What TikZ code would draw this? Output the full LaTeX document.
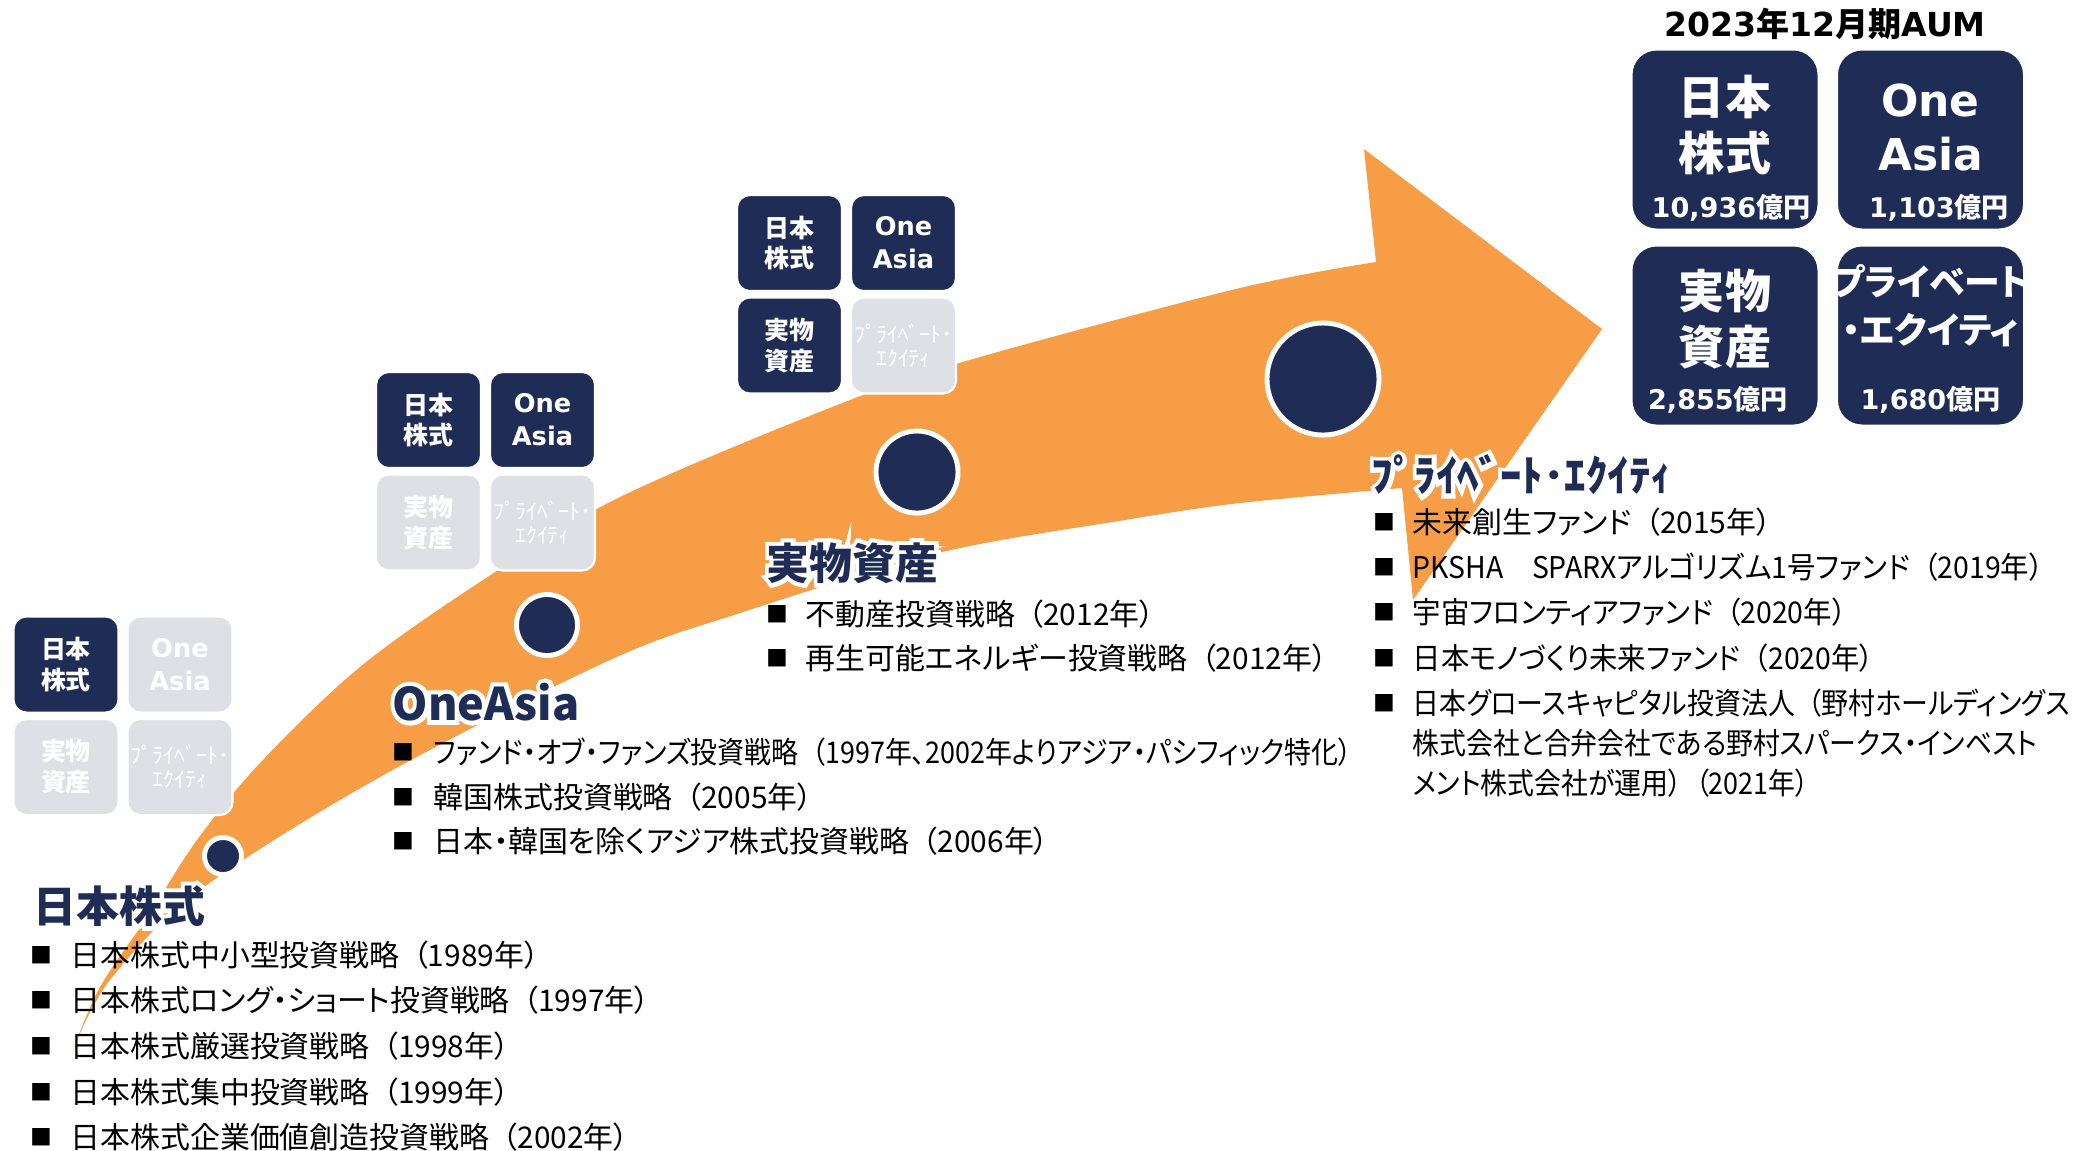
\documentclass[tikz,border=0pt]{standalone}
\usepackage{fontspec}
\usepackage{tikz}
\newfontfamily\jp[RawFeature=+palt]{Noto Sans CJK JP}
\newfontfamily\jpn[RawFeature=+palt, FakeStretch=0.9]{Noto Sans CJK JP}
\newfontfamily\jpm[RawFeature=+palt, FakeStretch=0.95]{Noto Sans CJK JP}
\newfontfamily\jpglow[RawFeature=+palt, FakeBold=20]{Noto Sans CJK JP}
\newfontfamily\dv{DejaVu Sans}
\definecolor{boxnavy}{RGB}{31,44,86}
\definecolor{arroworange}{RGB}{246,157,69}
\definecolor{boxgray}{RGB}{221,225,229}
% full-width gap before the opening bracket
\XeTeXinterchartokenstate=1
\newXeTeXintercharclass\parclass
\XeTeXcharclass`（=\parclass
\XeTeXinterchartoks 0 \parclass = {\kern0.45em}
\XeTeXinterchartoks 1 \parclass = {\kern0.45em}
\XeTeXinterchartoks 3 \parclass = {\kern0.45em}
\newcommand\halo[1]{\rlap{\color{white}\jpglow #1}#1}
\tikzset{
  smallbox/.style={rectangle, rounded corners=0.13cm, draw=white, line width=0.6pt,
    minimum width=1.05cm, minimum height=0.96cm, inner sep=0pt, text=white, align=center,
    font=\jp\bfseries\fontsize{7.1}{8.8}\selectfont},
  smalllat/.style={font=\dv\bfseries\fontsize{7.3}{9.4}\selectfont},
  smallpe/.style={font=\jp\fontsize{6.2}{6.8}\selectfont},
  aumbox/.style={rectangle, rounded corners=0.25cm, draw=white, line width=0.6pt, fill=boxnavy,
    minimum width=1.87cm, minimum height=1.80cm, inner sep=0pt},
  aumjp/.style={text=white, align=center, inner sep=0pt, font=\jp\bfseries\fontsize{13.1}{15.9}\selectfont},
  aumlat/.style={text=white, align=center, inner sep=0pt, font=\dv\bfseries\fontsize{12.5}{15.6}\selectfont},
  aumpe/.style={text=white, align=center, inner sep=0pt, font=\jp\bfseries\fontsize{10.2}{13.7}\selectfont},
  aumval/.style={text=white, inner sep=0pt, font=\dv\bfseries\fontsize{7.7}{9}\selectfont},
  dot/.style={circle, fill=boxnavy, draw=white, line width=1.4pt, inner sep=0pt},
  head/.style={anchor=west, inner sep=0pt, text=boxnavy, font=\jp\bfseries\fontsize{12.2}{14}\selectfont},
  item/.style={anchor=west, inner sep=0pt, align=left, font=\jp\fontsize{8.5}{11.4}\selectfont},
  bul/.style={inner sep=0pt, font=\jp\fontsize{6.2}{7}\selectfont}
}
\begin{document}
\begin{tikzpicture}[x=0.01cm,y=-0.01cm]
\useasboundingbox (0,0) rectangle (2076,1150);

% the growth arrow
\fill[arroworange] plot[smooth, tension=0.55] coordinates {(73,1050) (100,987) (150,913) (197,840) (260,763)
  (360,667) (483,580) (620,497) (850,400) (980,357) (1240,288) (1376,262)}
  -- (1364,149) -- (1602,329) -- (1413,600) -- (1402,488)
  -- plot[smooth, tension=0.55] coordinates {(1402,488) (1240,503) (1125,520) (938,553) (740,613)
  (610,660) (380,777) (200,890) (110,980) (73,1050)} -- cycle;

\node[dot, minimum size=0.37cm] (c1) at (223,856) {};
\node[dot, minimum size=0.61cm] (c2) at (547,625) {};
\node[dot, minimum size=0.82cm] (c3) at (917,472) {};
\node[dot, minimum size=1.12cm] (c4) at (1323,379) {};

\foreach \gx/\gy/\ca/\cb/\cc/\cd [count=\g] in {66/664.5/boxnavy/boxgray/boxgray/boxgray,
    428.5/420/boxnavy/boxnavy/boxgray/boxgray, 789.5/243/boxnavy/boxnavy/boxnavy/boxgray} {
\node[smallbox, fill=\ca] (g\g-eq) at (\gx,\gy) {日本\\株式};
\node[smallbox, smalllat, fill=\cb] (g\g-asia) at (\gx+114,\gy) {One\\Asia};
\node[smallbox, fill=\cc] (g\g-real) at (\gx,\gy+102.5) {実物\\資産};
\node[smallbox, smallpe, fill=\cd] (g\g-pe) at (\gx+114,\gy+102.5) {ﾌﾟﾗｲﾍﾞｰﾄ･\\ｴｸｲﾃｨ};
}

% AUM 2023
\node[inner sep=0pt, font=\dv\bfseries\fontsize{9.4}{11}\selectfont] (aum-title) at (1825,24) {2023{\jp 年}12{\jp 月期}AUM};
\foreach \bx/\by/\bn in {1725/139.5/eq, 1930.5/139.5/asia, 1725/335.5/real, 1930.5/335.5/pe}
  \node[aumbox] (aum-\bn) at (\bx,\by) {};
\node[aumjp] (aum-eq-t) at ([yshift=0.145cm]aum-eq.center) {日本\\株式};
\node[aumlat] (aum-asia-t) at ([yshift=0.12cm]aum-asia.center) {One\\Asia};
\node[aumjp] (aum-real-t) at ([yshift=0.165cm]aum-real.center) {実物\\資産};
\node[aumpe] (aum-pe-t) at ([yshift=0.295cm]aum-pe.center) {プライベート\\・エクイティ};
\node[aumval] (aum-eq-v) at ([xshift=0.06cm,yshift=-0.685cm]aum-eq.center) {10,936{\jp 億円}};
\node[aumval] (aum-asia-v) at ([xshift=0.085cm,yshift=-0.685cm]aum-asia.center) {1,103{\jp 億円}};
\node[aumval] (aum-real-v) at ([xshift=-0.07cm,yshift=-0.645cm]aum-real.center) {2,855{\jp 億円}};
\node[aumval] (aum-pe-v) at ([yshift=-0.645cm]aum-pe.center) {1,680{\jp 億円}};

% headings
\node[head] (hd-eq) at (33,906) {\halo{日本株式}};
\node[head, font=\jp\bfseries\fontsize{12.8}{14}\selectfont] (hd-asia) at (392,702) {\halo{OneAsia}};
\node[head] (hd-real) at (766,563) {\halo{実物資産}};
\node[head] (hd-pe) at (1371,475) {\halo{ﾌﾟﾗｲﾍﾞｰﾄ･ｴｸｲﾃｨ}};

% strategy lists
\foreach \y/\t [count=\i] in {955/日本株式中小型投資戦略（1989年）, 1000/日本株式ロング・ショート投資戦略（1997年）,
    1046/日本株式厳選投資戦略（1998年）, 1092/日本株式集中投資戦略（1999年）, 1137/日本株式企業価値創造投資戦略（2002年）} {
\node[bul] (eqb\i) at (41,\y) {■};
\node[item] (eq\i) at (70,\y) {\t};
}
\foreach \y/\t [count=\i] in {752/{\jpn ファンド・オブ・ファンズ投資戦略（1997年、2002年よりアジア・パシフィック特化）},
    797/韓国株式投資戦略（2005年）, 841/日本・韓国を除くアジア株式投資戦略（2006年）} {
\node[bul] (asb\i) at (403,\y) {■};
\node[item] (as\i) at (433,\y) {\t};
}
\foreach \y/\t [count=\i] in {614/不動産投資戦略（2012年）, 658/再生可能エネルギー投資戦略（2012年）} {
\node[bul] (reb\i) at (777,\y) {■};
\node[item] (re\i) at (805,\y) {\t};
}
\foreach \y/\t [count=\i] in {522/未来創生ファンド（2015年）, 567/{\jpm PKSHA　SPARXアルゴリズム1号ファンド（2019年）},
    612/{\jpm 宇宙フロンティアファンド（2020年）}, 658/{\jpm 日本モノづくり未来ファンド（2020年）}} {
\node[bul] (peb\i) at (1384,\y) {■};
\node[item] (pe\i) at (1412,\y) {\t};
}
\node[bul] (peb5) at (1384,703) {■};
\node[item, font=\jpn\fontsize{8.5}{11.4}\selectfont] (pe5) at (1412,743) {日本グロースキャピタル投資法人（野村ホールディングス\\株式会社と合弁会社である野村スパークス・インベスト\\メント株式会社が運用）（2021年）};
\end{tikzpicture}
\end{document}
